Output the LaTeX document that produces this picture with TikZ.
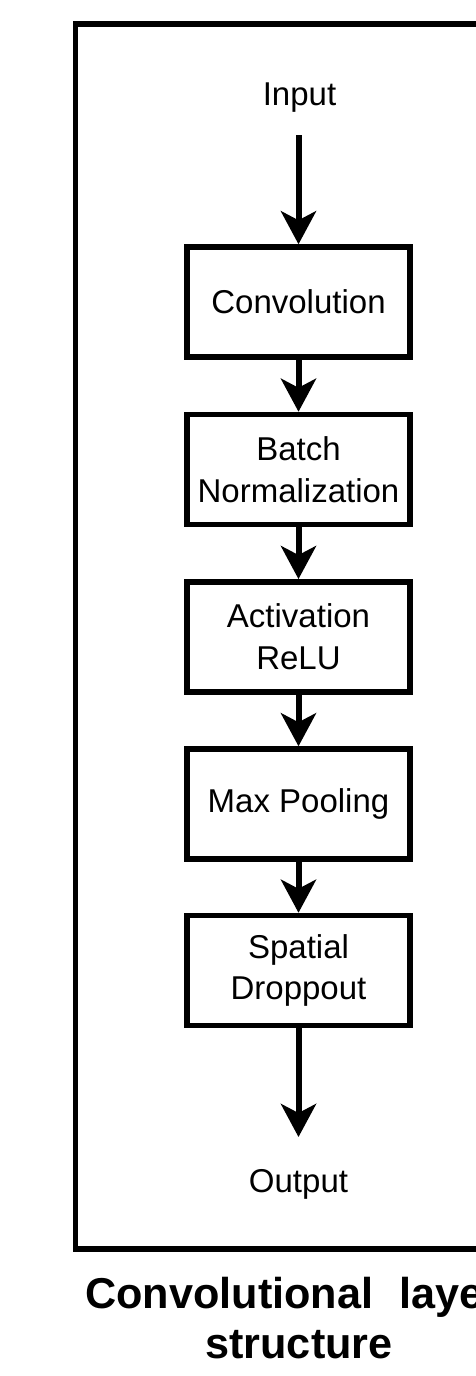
\documentclass[tikz,border=0pt]{standalone}
\usepackage{fontspec}
\setmainfont{Liberation Sans}
\usetikzlibrary{arrows.meta}
\tikzset{
  layerbox/.style={draw=black, line width=5.5pt, rectangle, minimum width=223pt, minimum height=110pt, inner sep=0pt, align=center, font=\fontsize{33}{41.6}\selectfont},
  lbl/.style={font=\fontsize{33}{40}\selectfont, inner sep=0pt, anchor=base},
  flow/.style={line width=6pt, -{Stealth[length=33pt, width=35pt, inset=9pt]}},
  frame/.style={draw=black, line width=5.5pt},
  ttl/.style={font=\fontsize{43.2}{50}\selectfont\bfseries, inner sep=0pt}
}
\begin{document}
\begin{tikzpicture}[x=1pt, y=-1pt]
\useasboundingbox (0,0) rectangle (476,1376);
\clip (0,0) rectangle (476,1376);
\draw[frame] (75.5,24) rectangle (523,1249);
\node[lbl] (in) at (299.5,105) {Input};
\coordinate (inA) at (298.5,135);
\node[layerbox] (conv) at (298.5,302) {Convolution};
\node[layerbox] (bn) at (298.5,469.5) {Batch\\Normalization};
\node[layerbox] (act) at (298.5,636.8) {Activation\\ReLU};
\node[layerbox] (mp) at (298.5,804) {Max Pooling};
\node[layerbox] (sd) at (298.5,970.5) {Spatial\\Droppout};
\coordinate (outA) at (298.5,1137);
\node[lbl] (out) at (298.5,1192) {Output};
\draw[flow] (inA) -- (conv.north);
\draw[flow] (conv.south) -- (bn.north);
\draw[flow] (bn.south) -- (act.north);
\draw[flow] (act.south) -- (mp.north);
\draw[flow] (mp.south) -- (sd.north);
\draw[flow] (sd.south) -- (outA);
\node[ttl, anchor=base west] (t1) at (85,1308) {Convolutional\hspace{26pt}layer};
\node[ttl, anchor=base] (t2) at (299,1358) {structure};
\end{tikzpicture}
\end{document}
